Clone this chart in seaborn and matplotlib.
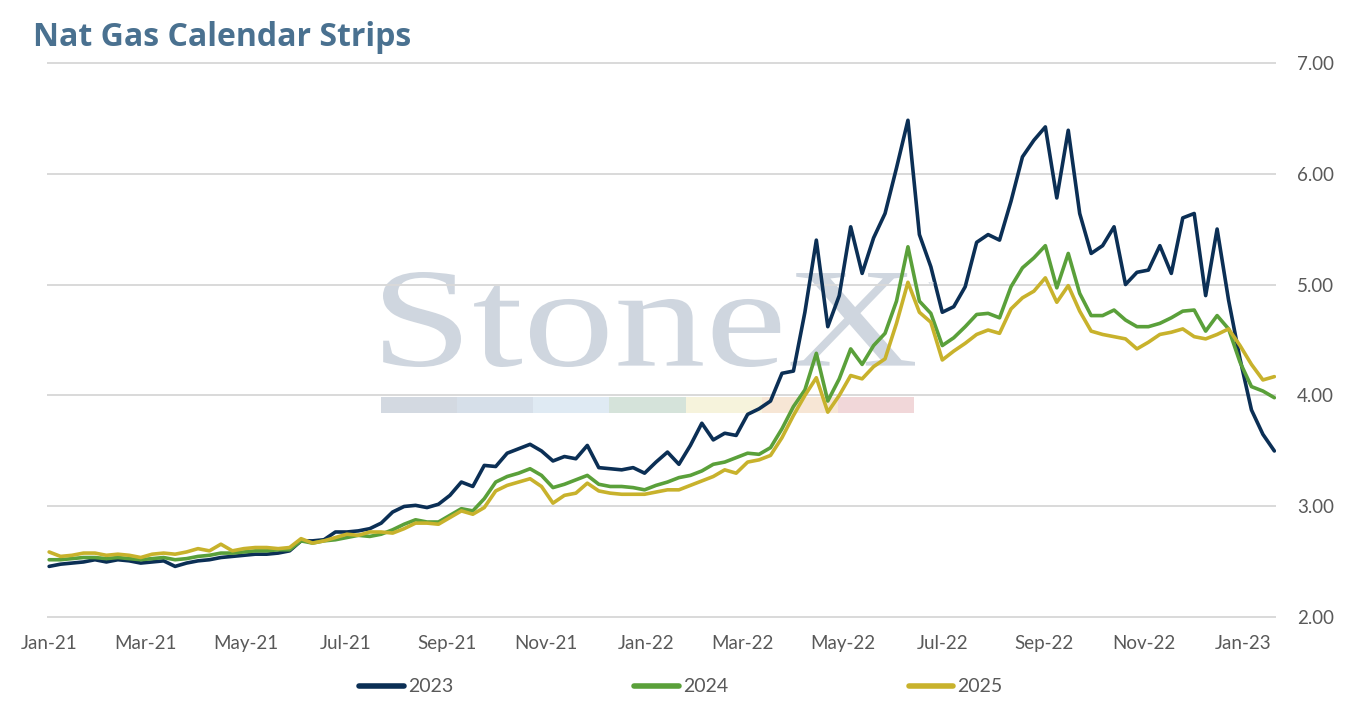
import pandas as pd
import seaborn as sns
import matplotlib.pyplot as plt
import matplotlib.dates as mdates
from matplotlib.lines import Line2D
from matplotlib.patches import PathPatch, Rectangle
from matplotlib.textpath import TextPath
from matplotlib.font_manager import FontProperties
from matplotlib.transforms import Affine2D

# weekly closes (Fridays)
dates = pd.date_range('2021-01-01', '2023-01-20', freq='W-FRI')

strip_2023 = [
    2.46, 2.48, 2.49, 2.50, 2.52, 2.50, 2.52, 2.51, 2.49, 2.50,
    2.51, 2.46, 2.49, 2.51, 2.52, 2.54, 2.55, 2.56, 2.57, 2.57,
    2.58, 2.60, 2.69, 2.69, 2.70, 2.77, 2.77, 2.78, 2.80, 2.85,
    2.95, 3.00, 3.01, 2.99, 3.02, 3.10, 3.22, 3.18, 3.37, 3.36,
    3.48, 3.52, 3.56, 3.50, 3.41, 3.45, 3.43, 3.55, 3.35, 3.34,
    3.33, 3.35, 3.30, 3.40, 3.49, 3.38, 3.55, 3.75, 3.60, 3.66,
    3.64, 3.83, 3.88, 3.95, 4.20, 4.22, 4.75, 5.40, 4.62, 4.90,
    5.52, 5.10, 5.42, 5.64, 6.05, 6.48, 5.45, 5.16, 4.75, 4.80,
    4.98, 5.38, 5.45, 5.40, 5.75, 6.15, 6.30, 6.42, 5.78, 6.39,
    5.64, 5.28, 5.35, 5.52, 5.00, 5.11, 5.13, 5.35, 5.10, 5.60,
    5.64, 4.90, 5.50, 4.86, 4.33, 3.87, 3.65, 3.50,
]
strip_2024 = [
    2.52, 2.52, 2.53, 2.54, 2.54, 2.53, 2.54, 2.53, 2.52, 2.53,
    2.54, 2.52, 2.53, 2.55, 2.56, 2.58, 2.58, 2.59, 2.60, 2.60,
    2.61, 2.61, 2.69, 2.67, 2.69, 2.70, 2.72, 2.74, 2.73, 2.75,
    2.79, 2.84, 2.88, 2.86, 2.86, 2.92, 2.98, 2.96, 3.07, 3.22,
    3.27, 3.30, 3.34, 3.28, 3.17, 3.20, 3.24, 3.28, 3.20, 3.18,
    3.18, 3.17, 3.15, 3.19, 3.22, 3.26, 3.28, 3.32, 3.38, 3.40,
    3.44, 3.48, 3.47, 3.53, 3.70, 3.90, 4.05, 4.38, 3.95, 4.15,
    4.42, 4.28, 4.45, 4.56, 4.85, 5.34, 4.85, 4.74, 4.45, 4.52,
    4.62, 4.73, 4.74, 4.70, 4.98, 5.15, 5.24, 5.35, 4.97, 5.28,
    4.92, 4.72, 4.72, 4.77, 4.68, 4.62, 4.62, 4.65, 4.70, 4.76,
    4.77, 4.58, 4.72, 4.60, 4.30, 4.08, 4.04, 3.98,
]
strip_2025 = [
    2.59, 2.55, 2.56, 2.58, 2.58, 2.56, 2.57, 2.56, 2.54, 2.57,
    2.58, 2.57, 2.59, 2.62, 2.60, 2.66, 2.60, 2.62, 2.63, 2.63,
    2.62, 2.63, 2.71, 2.67, 2.69, 2.72, 2.75, 2.74, 2.77, 2.77,
    2.76, 2.80, 2.85, 2.85, 2.84, 2.90, 2.96, 2.93, 2.99, 3.14,
    3.19, 3.22, 3.25, 3.18, 3.03, 3.10, 3.12, 3.21, 3.14, 3.12,
    3.11, 3.11, 3.11, 3.13, 3.15, 3.15, 3.19, 3.23, 3.27, 3.33,
    3.30, 3.40, 3.42, 3.46, 3.62, 3.82, 4.00, 4.16, 3.85, 4.00,
    4.18, 4.15, 4.26, 4.33, 4.65, 5.02, 4.75, 4.66, 4.32, 4.40,
    4.47, 4.55, 4.59, 4.56, 4.78, 4.88, 4.94, 5.06, 4.84, 4.99,
    4.76, 4.58, 4.55, 4.53, 4.51, 4.42, 4.48, 4.55, 4.57, 4.60,
    4.53, 4.51, 4.55, 4.60, 4.45, 4.28, 4.14, 4.17,
]

labels = ['2023', '2024', '2025']
colors = ['#0b2f55', '#5aa03a', '#c8b22c']

df = pd.concat([
    pd.DataFrame({'date': dates, 'price': v, 'strip': lab})
    for lab, v in zip(labels, [strip_2023, strip_2024, strip_2025])
])

sns.set_theme(style='white')
plt.rcParams['font.family'] = ['Lato', 'DejaVu Sans']

W, H = 1354, 707
fig = plt.figure(figsize=(W / 100, H / 100), dpi=100)
ax = fig.add_axes([47.5 / W, 1 - 618 / H, (1276 - 47.5) / W, (618 - 62) / H])

# StoneX watermark (behind grid and lines)
tp = TextPath((0, 0), 'StoneX', size=100, prop=FontProperties(family='Liberation Serif'))
ext = tp.get_extents()
x0, x1 = 383 / W, 915 / W
y0, y1 = 1 - 367 / H, 1 - 272 / H
tr = Affine2D().translate(-ext.x0, -ext.y0).scale((x1 - x0) / ext.width, (y1 - y0) / ext.height) \
    .translate(x0, y0) + fig.transFigure
ax.add_patch(PathPatch(tp, transform=tr, fc='#cfd6df', ec='none', zorder=0.1))
bar_cols = ['#d3d9e1', '#d6dfe9', '#dfeaf3', '#d5e3da', '#f6f3dc', '#f7e6d5', '#f1d7d9']
seg = (914 - 381) / len(bar_cols)
for i, c in enumerate(bar_cols):
    ax.add_patch(Rectangle(((381 + i * seg) / W, 1 - 413 / H), seg / W, 16 / H,
                           transform=fig.transFigure, fc=c, ec='none', zorder=0.1))
fig.text(928 / W, 1 - 288 / H, '™', fontsize=6, color='#cfd6df')

sns.lineplot(data=df, x='date', y='price', hue='strip', palette=colors,
             linewidth=2.6, ax=ax, legend=False, zorder=2)

ax.set_xlim(pd.Timestamp('2020-12-31'), pd.Timestamp('2023-01-21'))
ax.set_ylim(1.995, 7.005)
ax.set_yticks([2, 3, 4, 5, 6, 7])
ax.yaxis.set_major_formatter(plt.FormatStrFormatter('%.2f'))
ax.yaxis.tick_right()
ax.xaxis.set_major_locator(mdates.MonthLocator(bymonth=[1, 3, 5, 7, 9, 11]))
ax.xaxis.set_major_formatter(mdates.DateFormatter('%b-%y'))
ax.tick_params(axis='both', length=0, labelsize=13.5, labelcolor='#595959')
ax.tick_params(axis='x', pad=12)
ax.tick_params(axis='y', pad=15)
ax.set_xlabel('')
ax.set_ylabel('')
ax.set_axisbelow(True)
ax.grid(axis='y', color='#d9d9d9', linewidth=1.4)
ax.grid(axis='x', visible=False)
for s in ax.spines.values():
    s.set_visible(False)
ax.patch.set_alpha(0)

fig.text(33 / W, 1 - 46 / H, 'Nat Gas Calendar Strips', fontsize=23, fontweight='bold',
         color='#4a7190', va='baseline', family=['Open Sans', 'DejaVu Sans'])

handles = [Line2D([], [], color=c, lw=4, solid_capstyle='round') for c in colors]
fig.legend(handles, labels, loc='center', bbox_to_anchor=(0.503, 1 - 687 / H), ncol=3,
           frameon=False, handlelength=2.3, handletextpad=0.2, columnspacing=9.3,
           fontsize=14, labelcolor='#595959')

fig.savefig('out.png', dpi=100)
